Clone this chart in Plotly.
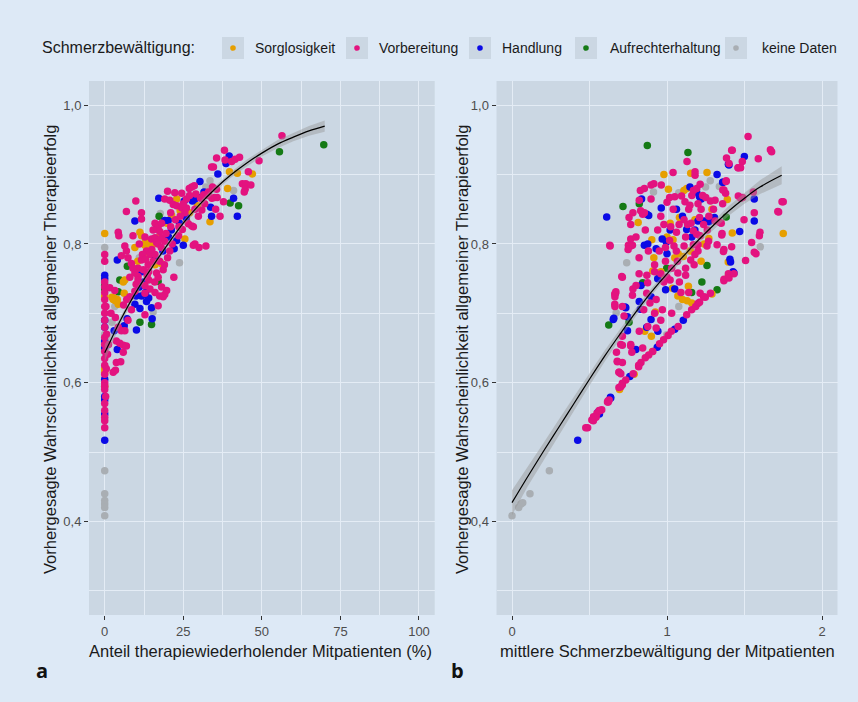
import plotly.graph_objects as go

# ---------------- DATA ----------------
categories = ["Sorglosigkeit", "Vorbereitung", "Handlung", "Aufrechterhaltung", "keine Daten"]
cat_colors = ["#E69F00", "#E3137F", "#0A0AE6", "#157A15", "#A9AEB3"]

# Panel a: x = Anteil therapiewiederholender Mitpatienten (%), y = predicted probability
a_orange_x = [0, 0, 0, 0, 0, 39.7, 42.2, 47.0, 39.1, 22.9, 21.3, 33.5, 26.0, 11.2, 11.7, 13.0, 13.8, 12.8, 25.5, 9.6,
              14.5, 16.0, 18.0, 10.5, 6.4, 5.9, 2.3, 3.0, 4.0, 2.7, 3.4, 4.3, 6.2, 27.0, 29.5, 24.0,
              15.5, 17.2, 19.8, 14.2]
a_orange_y = [0.815, 0.725, 0.620, 0.615, 0.595, 0.904, 0.902, 0.901, 0.880, 0.865, 0.841, 0.832, 0.835, 0.817, 0.812, 0.805, 0.800, 0.798, 0.807, 0.795,
              0.790, 0.770, 0.772, 0.775, 0.748, 0.745, 0.723, 0.722, 0.720, 0.720, 0.718, 0.713, 0.729, 0.845, 0.855, 0.848,
              0.800, 0.810, 0.830, 0.785]

a_magenta_x = [0] * 24 + [
    56.4, 38.1, 35.6, 38.3, 40.4, 41.5, 42.9, 49.1, 34.0, 34.6, 45.7, 43.8, 44.9, 44.7, 44.4, 46.5, 27.7, 26.9, 28.5, 34.3,
    35.6, 20.0, 22.3, 24.5, 19.1, 20.7, 30.5, 31.5, 32.8, 34.1, 35.0, 35.8, 37.8, 9.9, 6.9, 11.7, 11.7, 21.8, 22.9, 24.5,
    28.7, 30.9, 35.3, 36.7, 16.0, 17.0, 18.1, 29.8, 27.7, 28.2, 23.6, 24.7, 26.6, 15.4, 17.5, 4.3, 4.5, 9.0, 12.8, 14.9,
    16.0, 16.5, 18.1, 19.1, 28.7, 28.2, 32.2, 20.7, 6.4, 6.9, 5.3, 7.4, 11.7, 13.3, 14.4, 16.0, 8.5, 10.6, 12.3, 13.8,
    15.4, 17.5, 18.6, 22.0, 9.6, 10.6, 10.6, 12.8, 14.4, 15.9, 17.0, 18.1, 19.7, 17.5, 1.6, 3.2, 8.0, 9.6, 12.8, 16.0,
    19.1, 18.6, 17.0, 12.8, 8.5, 7.4, 3.4, 4.3, 5.3, 6.4, 3.7, 4.8, 5.9, 6.9, 5.9, 0.9, 3.7, 5.1, 2.7, 3.4,
    13.5, 14.0, 11.0, 21.0, 25.5, 31.8, 26.0, 23.5, 30.0,
    12.0, 13.0, 15.0, 17.0, 19.5, 21.0, 22.5, 24.0, 26.0, 18.0, 20.0, 9.0, 8.0, 10.0, 14.0, 16.5, 19.0, 21.5, 25.0, 27.0,
    29.0, 33.0, 6.0, 7.0, 2.0, 1.2, 0.6, 0.5, 0.4, 0.3]
a_magenta_y = [0.785, 0.775, 0.745, 0.738, 0.730, 0.720, 0.710, 0.700, 0.690, 0.680, 0.665, 0.655, 0.645, 0.635, 0.625, 0.612,
               0.600, 0.595, 0.590, 0.570, 0.560, 0.550, 0.545, 0.535] + [
    0.956, 0.935, 0.924, 0.921, 0.919, 0.922, 0.925, 0.920, 0.911, 0.911, 0.904, 0.887, 0.887, 0.879, 0.875, 0.885, 0.882, 0.880, 0.884, 0.882,
    0.879, 0.876, 0.874, 0.873, 0.865, 0.863, 0.866, 0.871, 0.870, 0.866, 0.867, 0.867, 0.861, 0.862, 0.847, 0.845, 0.836, 0.857, 0.855, 0.852,
    0.850, 0.849, 0.850, 0.840, 0.830, 0.825, 0.830, 0.840, 0.826, 0.825, 0.825, 0.821, 0.829, 0.820, 0.818, 0.817, 0.812, 0.812, 0.810, 0.807,
    0.809, 0.802, 0.809, 0.804, 0.800, 0.798, 0.797, 0.790, 0.797, 0.790, 0.783, 0.780, 0.777, 0.790, 0.785, 0.785, 0.772, 0.765, 0.763, 0.770,
    0.775, 0.775, 0.763, 0.752, 0.758, 0.753, 0.748, 0.740, 0.735, 0.745, 0.752, 0.738, 0.733, 0.725, 0.737, 0.733, 0.724, 0.732, 0.729, 0.730,
    0.727, 0.724, 0.711, 0.698, 0.705, 0.690, 0.694, 0.680, 0.675, 0.675, 0.660, 0.657, 0.654, 0.653, 0.644, 0.641, 0.629, 0.630, 0.615, 0.618,
    0.755, 0.760, 0.800, 0.845, 0.845, 0.858, 0.865, 0.812, 0.795,
    0.785, 0.778, 0.792, 0.800, 0.815, 0.825, 0.835, 0.840, 0.852, 0.795, 0.780, 0.765, 0.752, 0.742, 0.748, 0.758, 0.770, 0.800, 0.858, 0.870,
    0.872, 0.875, 0.712, 0.720, 0.700, 0.655, 0.670, 0.620, 0.710, 0.580]

a_blue_x = [0] * 11 + [
    39.6, 38.6, 36.0, 30.3, 31.6, 17.2, 25.3, 27.9, 28.7, 29.3, 41.0, 42.2, 9.6, 33.7, 34.0, 19.1, 20.2, 25.9, 16.5, 22.9,
    22.1, 25.0, 4.0, 11.7, 11.0, 13.0, 10.0, 14.0, 11.7, 13.3, 9.6, 11.2, 14.9, 7.1, 6.2, 10.1, 15.1, 3.0, 4.0, 18.5,
    16.0, 20.3, 21.2, 23.8, 12.5]
a_blue_y = [0.755, 0.750, 0.690, 0.680, 0.660, 0.650, 0.605, 0.580, 0.575, 0.555, 0.517] + [
    0.927, 0.916, 0.901, 0.890, 0.875, 0.866, 0.862, 0.862, 0.865, 0.868, 0.866, 0.840, 0.833, 0.853, 0.840, 0.834, 0.834, 0.838, 0.822, 0.805,
    0.793, 0.798, 0.777, 0.760, 0.738, 0.730, 0.725, 0.722, 0.725, 0.717, 0.713, 0.707, 0.708, 0.692, 0.682, 0.676, 0.692, 0.675, 0.648, 0.790,
    0.780, 0.810, 0.820, 0.830, 0.745]

a_green_x = [0, 0, 55.6, 69.7, 39.9, 42.6, 17.3, 7.2, 4.8, 4.3, 17.0, 11.2, 14.9]
a_green_y = [0.735, 0.740, 0.933, 0.943, 0.859, 0.855, 0.840, 0.768, 0.748, 0.731, 0.746, 0.687, 0.684]

a_gray_x = [0, 0, 0, 0, 0, 0, 0, 0, 41.0, 33.5, 32.2, 17.7, 23.8, 11.0, 3.2, 15.4, 2.3, 10.6]
a_gray_y = [0.795, 0.670, 0.473, 0.440, 0.430, 0.425, 0.420, 0.408, 0.877, 0.891, 0.882, 0.844, 0.773, 0.780, 0.710, 0.702, 0.687, 0.733]

# Panel b: x = mittlere Schmerzbewältigung der Mitpatienten
b_orange_x = [0.980, 1.153, 1.258, 1.009, 1.109, 1.127, 1.389, 0.814, 1.080, 1.020, 1.280, 1.290, 1.039, 0.902, 0.915, 1.072, 1.105, 1.421, 1.395, 1.270,
              1.240, 1.750, 1.396, 0.908, 0.952, 1.035, 1.138, 1.290, 1.070, 1.100, 1.130, 1.160, 0.924, 0.788, 0.694, 0.899, 0.906, 0.856,
              1.000, 1.050, 1.150, 1.180, 0.960, 1.220]
b_orange_y = [0.900, 0.902, 0.903, 0.879, 0.877, 0.880, 0.864, 0.831, 0.838, 0.830, 0.835, 0.850, 0.806, 0.806, 0.780, 0.786, 0.782, 0.816, 0.774, 0.808,
              0.800, 0.815, 0.754, 0.761, 0.755, 0.736, 0.739, 0.728, 0.725, 0.720, 0.718, 0.715, 0.702, 0.612, 0.590, 0.667, 0.645, 0.674,
              0.810, 0.780, 0.790, 0.835, 0.760, 0.775]

b_magenta_x = [
    1.129, 1.421, 1.384, 1.400, 1.458, 1.039, 1.181, 1.181, 1.382, 1.367, 1.378, 0.828, 0.854, 0.897, 0.915, 0.963, 1.170, 1.192, 1.214, 1.230,
    1.250, 1.280, 1.310, 0.821, 0.897, 1.017, 1.050, 1.094, 1.116, 1.148, 1.200, 0.755, 0.766, 0.830, 0.843, 0.854, 0.980, 1.024, 1.078, 1.110,
    1.133, 1.155, 1.210, 1.236, 1.270, 1.310, 1.350, 1.061, 1.017, 1.170, 1.192, 1.214, 0.766, 0.777, 0.751, 0.631, 0.990, 1.045, 1.110, 1.170,
    1.200, 1.258, 1.268, 1.323, 1.355, 1.367, 0.990, 1.067, 1.153, 1.175,
    1.523, 1.417, 1.675, 1.486, 1.589, 1.460, 1.475, 1.381, 1.360, 1.557, 1.460, 1.475, 1.488, 1.359, 1.750, 1.720, 1.342, 1.497, 1.563, 1.353,
    1.600, 1.596, 1.546, 1.417, 1.364, 1.563, 1.574, 1.507, 1.396, 1.368,
    0.870, 0.920, 0.960, 1.000, 1.020, 1.070, 1.120, 0.820, 0.875, 0.668, 0.664, 0.777, 0.869, 1.090, 1.140, 1.214, 1.247, 0.664, 0.712, 0.723,
    0.876, 0.930, 0.821, 0.920, 0.960, 0.890, 0.701, 0.766, 0.843, 0.679, 0.712, 0.690, 0.817,
    1.199, 1.159, 1.127, 1.072, 1.028, 1.007, 0.978, 0.952, 0.908, 0.882, 0.860, 0.832, 0.817, 0.782, 0.734, 0.712, 0.690, 0.620, 0.570, 0.548,
    0.526, 1.236, 1.280, 1.367, 1.400, 1.432, 1.185, 1.210,
    0.488, 0.525, 0.542, 0.579, 0.621, 0.476,
    0.633, 0.708, 0.663, 0.670, 0.663, 0.680, 0.691, 0.702, 0.674, 0.702, 0.712, 0.616, 0.627, 0.562, 0.541, 0.515, 0.712, 0.712, 0.766, 0.773,
    0.766, 0.749, 0.712, 1.742, 1.715, 1.667, 0.780, 0.800,
    0.940, 0.960, 1.000, 1.040, 1.060, 1.120, 1.140, 1.160, 1.200, 1.220, 1.260, 1.300, 0.920, 0.950, 0.980, 1.030, 1.080, 1.120, 1.180, 0.880,
    0.860, 0.820, 0.800, 0.780, 0.930, 0.970, 0.850, 1.030]
b_magenta_y = [
    0.919, 0.935, 0.924, 0.916, 0.910, 0.903, 0.899, 0.904, 0.891, 0.878, 0.873, 0.877, 0.880, 0.885, 0.887, 0.885, 0.877, 0.880, 0.886, 0.870,
    0.867, 0.862, 0.863, 0.863, 0.865, 0.867, 0.868, 0.869, 0.861, 0.856, 0.858, 0.838, 0.828, 0.848, 0.843, 0.845, 0.828, 0.825, 0.828, 0.835,
    0.828, 0.830, 0.838, 0.828, 0.840, 0.833, 0.830, 0.817, 0.805, 0.819, 0.814, 0.812, 0.807, 0.798, 0.798, 0.798, 0.795, 0.797, 0.797, 0.799,
    0.799, 0.797, 0.804, 0.799, 0.815, 0.792, 0.775, 0.775, 0.777, 0.770,
    0.955, 0.935, 0.933, 0.919, 0.923, 0.910, 0.910, 0.890, 0.878, 0.875, 0.869, 0.866, 0.867, 0.858, 0.861, 0.846, 0.831, 0.835, 0.845, 0.813,
    0.817, 0.812, 0.802, 0.796, 0.789, 0.788, 0.786, 0.776, 0.757, 0.749,
    0.755, 0.760, 0.757, 0.752, 0.748, 0.758, 0.755, 0.757, 0.744, 0.729, 0.724, 0.726, 0.729, 0.730, 0.730, 0.729, 0.723, 0.710, 0.710, 0.696,
    0.681, 0.679, 0.674, 0.700, 0.690, 0.715, 0.655, 0.653, 0.650, 0.631, 0.629, 0.615, 0.623,
    0.714, 0.705, 0.698, 0.681, 0.674, 0.668, 0.662, 0.656, 0.645, 0.640, 0.636, 0.629, 0.625, 0.613, 0.604, 0.599, 0.593, 0.574, 0.560, 0.556,
    0.551, 0.724, 0.729, 0.747, 0.751, 0.757, 0.710, 0.716,
    0.535, 0.545, 0.550, 0.561, 0.572, 0.535,
    0.797, 0.753, 0.728, 0.731, 0.713, 0.630, 0.615, 0.613, 0.644, 0.594, 0.597, 0.572, 0.575, 0.560, 0.551, 0.546, 0.667, 0.654, 0.655, 0.644,
    0.797, 0.792, 0.752, 0.861, 0.847, 0.936, 0.735, 0.740,
    0.820, 0.840, 0.860, 0.850, 0.790, 0.810, 0.850, 0.870, 0.790, 0.850, 0.820, 0.850, 0.770, 0.790, 0.745, 0.765, 0.745, 0.765, 0.785, 0.790,
    0.820, 0.780, 0.810, 0.845, 0.720, 0.705, 0.705, 0.700]

b_blue_x = [1.400, 1.323, 1.362, 1.148, 1.192, 1.210, 1.221, 0.836, 0.611, 0.882, 0.870, 0.963, 1.061, 1.200, 1.240, 1.270, 1.306, 1.127, 1.180, 0.969,
            0.996, 0.854, 0.876, 0.930, 1.000, 1.406, 1.499, 1.396, 1.359, 1.563, 1.563, 1.469, 1.426, 0.832, 0.991, 0.821, 0.897, 0.734, 0.828, 0.653,
            0.745, 0.897, 0.869, 0.941, 0.799, 1.105, 1.050, 0.937, 0.760, 0.635, 0.553, 0.564, 0.424, 0.637, 0.657, 0.730, 0.745, 1.050, 1.410, 1.432,
            1.020, 1.100, 0.940, 1.160]
b_blue_y = [0.914, 0.900, 0.889, 0.882, 0.874, 0.868, 0.865, 0.865, 0.839, 0.841, 0.843, 0.852, 0.850, 0.833, 0.833, 0.832, 0.838, 0.821, 0.820, 0.807,
            0.803, 0.798, 0.800, 0.793, 0.786, 0.778, 0.926, 0.915, 0.889, 0.865, 0.833, 0.818, 0.760, 0.740, 0.734, 0.717, 0.724, 0.708, 0.706, 0.691,
            0.675, 0.691, 0.680, 0.674, 0.648, 0.690, 0.677, 0.651, 0.609, 0.579, 0.557, 0.555, 0.517, 0.578, 0.693, 0.709, 0.695, 0.735, 0.774, 0.758,
            0.820, 0.840, 0.750, 0.810]

b_green_x = [0.873, 1.135, 0.821, 0.716, 1.382, 1.258, 0.843, 1.225, 1.159, 1.323, 0.624, 0.755, 0.998]
b_green_y = [0.942, 0.932, 0.858, 0.854, 0.839, 0.769, 0.744, 0.745, 0.730, 0.734, 0.683, 0.687, 0.765]

b_gray_x = [1.279, 1.338, 0.913, 1.076, 1.249, 0.740, 1.076, 0.672, 1.602, 0.241, 0.000, 0.043, 0.058, 0.069, 0.116, 0.998]
b_gray_y = [0.891, 0.883, 0.875, 0.874, 0.882, 0.773, 0.710, 0.701, 0.796, 0.473, 0.408, 0.420, 0.425, 0.427, 0.440, 0.669]

# Smoothed fits with confidence band
fit_a_x = [0, 2, 5, 10, 15, 20, 25, 30, 35, 40, 45, 50, 55, 60, 65, 70]
fit_a_y = [0.643, 0.662, 0.690, 0.731, 0.766, 0.799, 0.830, 0.856, 0.879, 0.899, 0.916, 0.931, 0.944, 0.954, 0.963, 0.970]
fit_a_lo = [0.631, 0.653, 0.684, 0.727, 0.762, 0.795, 0.826, 0.852, 0.875, 0.895, 0.911, 0.926, 0.938, 0.948, 0.956, 0.962]
fit_a_hi = [0.655, 0.671, 0.696, 0.735, 0.770, 0.803, 0.834, 0.860, 0.883, 0.903, 0.921, 0.936, 0.950, 0.960, 0.970, 0.978]

fit_b_x = [0, 0.1, 0.2, 0.3, 0.4, 0.5, 0.6, 0.7, 0.8, 0.9, 1.0, 1.1, 1.2, 1.3, 1.4, 1.5, 1.6, 1.74]
fit_b_y = [0.427, 0.464, 0.500, 0.535, 0.570, 0.605, 0.639, 0.671, 0.702, 0.731, 0.757, 0.781, 0.805, 0.827, 0.848, 0.866, 0.882, 0.899]
fit_b_lo = [0.409, 0.450, 0.488, 0.524, 0.560, 0.596, 0.631, 0.664, 0.696, 0.726, 0.752, 0.776, 0.800, 0.821, 0.841, 0.858, 0.872, 0.886]
fit_b_hi = [0.445, 0.478, 0.512, 0.546, 0.580, 0.614, 0.647, 0.678, 0.708, 0.736, 0.762, 0.786, 0.810, 0.833, 0.855, 0.874, 0.892, 0.912]

y_ticks = [0.4, 0.6, 0.8, 1.0]
y_minor = [0.3, 0.5, 0.7, 0.9]
xa_ticks = [0, 25, 50, 75, 100]
xa_minor = [12.5, 37.5, 62.5, 87.5]
xb_ticks = [0, 1, 2]
xb_minor = [0.5, 1.5]

legend_title = "Schmerzbewältigung:"
xa_title = "Anteil therapiewiederholender Mitpatienten (%)"
xb_title = "mittlere Schmerzbewältigung der Mitpatienten"
y_title = "Vorhergesagte Wahrscheinlichkeit allgemeiner Therapieerfolg"

# ---------------- FIGURE ----------------
W, H = 858, 702
PAGE = "#DDE9F6"
PANEL = "#CBD7E3"
GRID = "#E4ECF5"
FONT = "Liberation Sans"

fig = go.Figure()

def px(x):
    return x / W

def py(y):
    return 1 - y / H

panel_a = {"orange": (a_orange_x, a_orange_y), "magenta": (a_magenta_x, a_magenta_y),
           "blue": (a_blue_x, a_blue_y), "green": (a_green_x, a_green_y), "gray": (a_gray_x, a_gray_y)}
panel_b = {"orange": (b_orange_x, b_orange_y), "magenta": (b_magenta_x, b_magenta_y),
           "blue": (b_blue_x, b_blue_y), "green": (b_green_x, b_green_y), "gray": (b_gray_x, b_gray_y)}
keys = ["orange", "magenta", "blue", "green", "gray"]
draw_order = ["gray", "green", "orange", "blue", "magenta"]

for panel, xa, ya, fx, fy, flo, fhi in [
        (panel_a, "x", "y", fit_a_x, fit_a_y, fit_a_lo, fit_a_hi),
        (panel_b, "x2", "y2", fit_b_x, fit_b_y, fit_b_lo, fit_b_hi)]:
    for k in draw_order:
        i = keys.index(k)
        xs, ys = panel[k]
        fig.add_trace(go.Scatter(x=xs, y=ys, mode="markers", xaxis=xa, yaxis=ya,
                                 marker=dict(size=7.5, color=cat_colors[i], line=dict(width=0)),
                                 name=categories[i], showlegend=False, hoverinfo="skip"))
    fig.add_trace(go.Scatter(x=fx + fx[::-1], y=fhi + flo[::-1], xaxis=xa, yaxis=ya,
                             fill="toself", fillcolor="rgba(150,150,150,0.45)", line=dict(width=0),
                             mode="lines", showlegend=False, hoverinfo="skip"))
    fig.add_trace(go.Scatter(x=fx, y=fy, xaxis=xa, yaxis=ya, mode="lines",
                             line=dict(color="black", width=1.2, shape="spline"),
                             showlegend=False, hoverinfo="skip"))

y_dom = [py(615), py(81)]
axis_common = dict(showgrid=True, gridcolor=GRID, gridwidth=1.3, zeroline=False, showline=False,
                   ticks="outside", ticklen=4, tickwidth=1, tickcolor="#333333",
                   tickfont=dict(family=FONT, size=13, color="#4D4D4D"))

fig.update_layout(
    width=W, height=H, margin=dict(l=0, r=0, t=0, b=0),
    paper_bgcolor=PAGE, plot_bgcolor=PANEL, separators=",.",
    font=dict(family=FONT, color="#1a1a1a"),
    xaxis=dict(domain=[px(89), px(434.7)], range=[-5, 105], tickvals=xa_ticks, ticktext=[str(v) for v in xa_ticks],
               minor=dict(tickvals=xa_minor, showgrid=True, gridcolor=GRID, gridwidth=0.7, ticks=""),
               anchor="y", **axis_common),
    yaxis=dict(domain=y_dom, range=[0.265, 1.035], tickvals=y_ticks, tickformat=".1f",
               minor=dict(tickvals=y_minor, showgrid=True, gridcolor=GRID, gridwidth=0.7, ticks=""),
               anchor="x", **axis_common),
    xaxis2=dict(domain=[px(496.5), px(837.5)], range=[-0.1, 2.1], tickvals=xb_ticks,
                minor=dict(tickvals=xb_minor, showgrid=True, gridcolor=GRID, gridwidth=0.7, ticks=""),
                anchor="y2", **axis_common),
    yaxis2=dict(domain=y_dom, range=[0.265, 1.035], tickvals=y_ticks, tickformat=".1f",
                minor=dict(tickvals=y_minor, showgrid=True, gridcolor=GRID, gridwidth=0.7, ticks=""),
                anchor="x2", **axis_common),
)

def note(x, y, text, size, family=FONT, xanchor="center", angle=0, color="#1a1a1a"):
    return dict(x=px(x), y=py(y), text=text, showarrow=False, xref="paper", yref="paper",
                xanchor=xanchor, yanchor="middle", textangle=angle,
                font=dict(family=family, size=size, color=color))

ann = []
# axis titles
ann.append(note(260, 651, xa_title, 16.5))
ann.append(note(667, 651, xb_title, 16.5))
for xc in [50, 462]:
    ann.append(note(xc, 350, y_title, 16.5, angle=-90))
# panel labels
ann.append(note(42, 670, "<b>a</b>", 20, family="Open Sans", color="#111111"))
ann.append(note(457, 670, "<b>b</b>", 20, family="Open Sans", color="#111111"))
# legend
LEG_Y = 48
ann.append(note(40, LEG_Y, legend_title, 16, xanchor="left"))
key_x = [233, 357, 480, 586, 736]
lab_x = [253, 377, 500, 608, 760]
shapes = []
for i in range(len(categories)):
    kx = key_x[i]
    shapes.append(dict(type="rect", xref="paper", yref="paper",
                       x0=px(kx - 11), x1=px(kx + 11), y0=py(LEG_Y + 11), y1=py(LEG_Y - 11),
                       fillcolor=PANEL, line=dict(width=0), layer="below"))
    shapes.append(dict(type="circle", xref="paper", yref="paper",
                       x0=px(kx - 2.8), x1=px(kx + 2.8), y0=py(LEG_Y + 2.8), y1=py(LEG_Y - 2.8),
                       fillcolor=cat_colors[i], line=dict(width=0)))
    ann.append(note(lab_x[i], LEG_Y, categories[i], 14, xanchor="left"))

fig.update_layout(annotations=ann, shapes=shapes)

fig.write_html("out.html", config={"displayModeBar": False},
               post_script="document.body.style.margin='0';")
